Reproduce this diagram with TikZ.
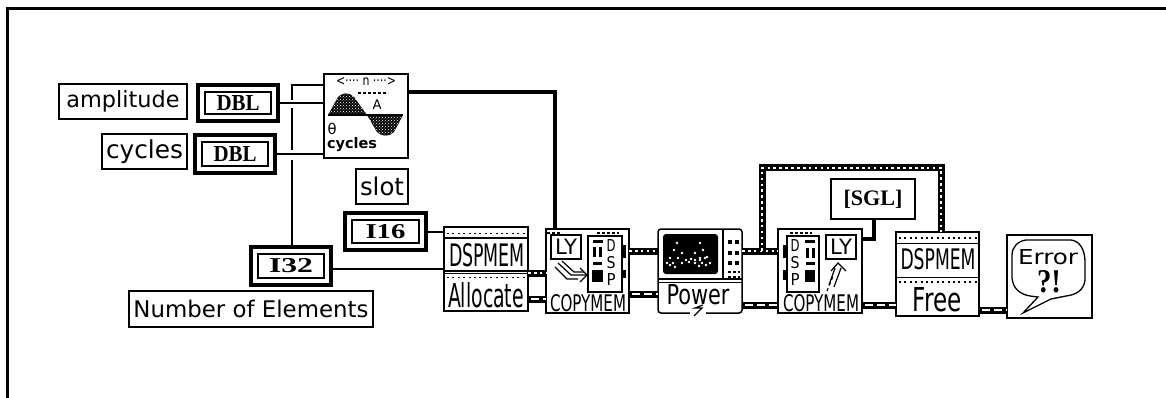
\documentclass[tikz,border=0pt]{standalone}
\usepackage{graphicx}
\usepackage{fontspec}
\setmainfont{DejaVu Sans}
\newfontfamily\serifbold{Liberation Serif}
\usetikzlibrary{patterns}
\newcommand{\fitw}[2]{\resizebox{#1pt}{!}{#2}}
\newcommand{\fitwh}[3]{\resizebox{#1pt}{#2pt}{#3}}
\newcommand{\bx}[7][]{\node[vibox,#1,minimum width={(#5-#3)*1pt},minimum height={(#6-#4)*1pt}] (#2) at ({(#3+#5)/2},{(#4+#6)/2}) {#7};}
\newcommand{\constbx}[6]{%
  \node[constouter,minimum width={(#4-#2-4)*1pt},minimum height={(#5-#3-4)*1pt}] (#1) at ({(#2+#4)/2},{(#3+#5)/2}) {};
  \node[constinner,minimum width={(#4-#2-18)*1pt},minimum height={(#5-#3-18)*1pt}] (#1i) at (#1.center) {#6};}
\tikzset{
  x=1pt,y=-1pt,
  vibox/.style={draw=black,fill=white,line width=1.5pt,inner sep=0pt,outer sep=0pt,rectangle},
  constouter/.style={draw=black,fill=white,line width=4.5pt,inner sep=0pt,outer sep=2.25pt,rectangle},
  constinner/.style={draw=black,fill=white,line width=1.5pt,inner sep=0pt,outer sep=0pt,rectangle,font=\serifbold\bfseries},
  txt/.style={inner sep=0pt,outer sep=0pt},
  thinw/.style={line width=1.5pt,black},
  thickw/.style={line width=4pt,black},
  dotw/.style={white,line width=2.6pt,dash pattern=on 2.6pt off 3.3pt,preaction={draw,black,solid,line width=7pt,line cap=butt}},
  brokenw/.style={white,line width=2.6pt,dash pattern=on 8pt off 4pt,dash phase=-3pt,preaction={draw,black,solid,line width=7pt}},
  thinl/.style={line width=1.2pt,black},
  stripe/.style={line width=1.5pt,black,dash pattern=on 2pt off 3.4pt},
  dotrow/.style={line width=2pt,black,dash pattern=on 2.5pt off 2.5pt},
  stipple/.style={pattern=crosshatch dots,pattern color=white},
}
\begin{document}
\begin{tikzpicture}
\useasboundingbox (0,0) rectangle (1166,398);
\fill[white] (0,0) rectangle (1166,398);
% frame
\draw[line width=3pt,black] (7.5,398) -- (7.5,8.5) -- (1166,8.5);

% front panel labels and constants
\bx[line width=2pt]{ampl}{59}{84}{187}{119}{\fitw{113}{amplitude}}
\bx{cyc}{102}{134}{187}{169}{\fitw{77}{cycles}}
\bx{slot}{356}{169}{408}{204}{\fitw{44}{slot}}
\bx{noe}{129}{291}{373}{327}{\fitw{235}{Number of Elements}}
\constbx{dbla}{196}{83}{280}{123}{\fitwh{43}{15}{DBL}}
\constbx{dblb}{193}{133}{277}{175}{\fitwh{43}{15}{DBL}}
\constbx{ixvi}{343}{211}{428}{252}{\fitwh{40}{14}{I16}}
\constbx{ixxxii}{249}{245}{333}{287}{\fitwh{44}{14}{I32}}

% sine VI
\bx{sine}{324}{74}{408}{158}{}
\node[txt] (sinen) at (366,82) {\fitwh{60}{8}{<···· n ····>}};
\fill[black] (328,115) -- (338,97) .. controls (343,92) and (349,92) .. (354,97) -- (367,115) -- cycle;
\fill[stipple] (328,115) -- (338,97) .. controls (343,92) and (349,92) .. (354,97) -- (367,115) -- cycle;
\fill[black] (367,115) -- (403,115) -- (394,132) .. controls (389,137) and (382,137) .. (377,132) -- cycle;
\fill[stipple] (367,115) -- (403,115) -- (394,132) .. controls (389,137) and (382,137) .. (377,132) -- cycle;
\draw[line width=1.5pt] (328,115) -- (403,115);
\draw[dotrow,line width=1.5pt] (358,93) -- (388,93);
\node[txt] (sinea) at (377,105) {\fitw{9}{A}};
\node[txt] (sinet) at (332,129) {\fitw{9}{θ}};
\node[txt] (sinec) at (352,145) {\fitw{50}{\bfseries cycles}};

% DSPMEM Allocate
\bx{alloc}{444}{227}{528}{311}{}
\coordinate (allocTL) at (444,238);
\coordinate (allocTR) at (528,238);
\draw[thinl] (allocTL) -- (allocTR);
\draw[stripe] (447,233.5) -- (526,233.5);
\draw[thinl] (444,271) -- (528,271);
\draw[thinl] (444,273.5) -- (528,273.5);
\draw[stripe] (447,277.5) -- (526,277.5);
\node[txt] (alloca) at (487,255) {\fitwh{76}{23}{DSPMEM}};
\node[txt] (allocb) at (486,295) {\fitwh{76}{25}{Allocate}};

% COPYMEM left
\bx{cpa}{546}{229}{629}{313}{}
\node[vibox,minimum width=30pt,minimum height=24pt] (cpaly) at (566,247) {\fitw{22}{LY}};
\bx[line width=1.3pt]{cpad}{588}{236}{622}{292}{}
\draw[dotrow] (547,232.5) -- (560,232.5);
\draw[dotrow] (597,232.5) -- (619,232.5);
\fill (593,240) rectangle (603,243);
\fill (593,247) rectangle (595.5,257);
\fill (599,247) rectangle (601.5,257);
\fill (593,262) rectangle (602,265);
\fill (592,270) rectangle (603,282);
\node[txt] (cpadd) at (611,245) {\fitwh{9}{12}{D}};
\node[txt] (cpads) at (611,263) {\fitwh{9}{12}{S}};
\node[txt] (cpadp) at (611,279) {\fitwh{9}{12}{P}};
\fill (622.5,245) rectangle (625.5,258);
\fill (622.5,270) rectangle (625.5,278);
\draw[thinl] (558,263) -- (571,275) -- (586,275);
\draw[thinl] (562,261) -- (574,272) -- (584,272);
\draw[thinl] (555,267) -- (567,279) -- (578,279);
\draw[thinl] (580,268) -- (587,275) -- (580,282);
\node[txt] (cpat) at (588,303) {\fitwh{76}{17}{COPYMEM}};

% Power
\node[vibox,rounded corners=3pt,minimum width=84pt,minimum height=84pt] (pow) at (700,271) {};
\fill[black,rounded corners=3pt] (663,234) rectangle (718,274);
\foreach \px/\py in {677/243,674/250,682/253,670/258,678/258,667/263,673/263,682/263,670/265,675/267,686/260,691/259,695/260,700/258,705/258,700/243,703/250,695/253,707/257,700/260,710/263,695/263,702/263,706/265,699/266,689/262}
  \fill[white] (\px,\py) circle (1.3);
\draw[thinl] (723,229) -- (723,278);
\draw[thinl] (658,279) -- (742,279);
\draw[thinl] (658,282.5) -- (742,282.5);
\foreach \py in {242,253,263} {\fill (728,\py-2) rectangle (732,\py+2); \fill (735,\py-2) rectangle (739,\py+2);}
\draw[dotrow,line width=1.3pt] (728,272) -- (740,272);
\draw[dotrow,line width=1.3pt] (728,277) -- (740,277);
\node[txt] (powt) at (698,295) {\fitwh{63}{20}{Power}};
\coordinate (boltA) at (703,305);
\coordinate (boltB) at (695,308);
\coordinate (boltC) at (702,308);
\coordinate (boltD) at (694,316);
\draw[white,line width=3pt] (690,313) -- (706,313);
\draw[thinl] (boltA) -- (boltB) -- (boltC) -- (boltD);

% COPYMEM right
\bx{cpb}{778}{229}{862}{313}{}
\node[vibox,minimum width=30pt,minimum height=24pt] (cpbly) at (841,247) {\fitw{22}{LY}};
\bx[line width=1.3pt]{cpbd}{787}{236}{819}{292}{}
\draw[dotrow] (790,232.5) -- (812,232.5);
\fill (805,240) rectangle (815,243);
\fill (806,248) rectangle (808.5,258);
\fill (812,248) rectangle (814.5,258);
\fill (806,262) rectangle (815,265);
\fill (805,270) rectangle (815,282);
\node[txt] (cpbdd) at (795,245) {\fitwh{9}{12}{D}};
\node[txt] (cpbds) at (795,263) {\fitwh{9}{12}{S}};
\node[txt] (cpbdp) at (795,279) {\fitwh{9}{12}{P}};
\fill (783,245) rectangle (786,258);
\fill (783,270) rectangle (786,280);
\draw[thinl] (829,285) -- (835,268);
\draw[thinl] (834,287) -- (841,268);
\draw[thinl,dashed] (827,291) -- (833,276);
\draw[thinl] (831,271) -- (838,263) -- (846,271);
\node[txt] (cpbt) at (821,303) {\fitwh{76}{17}{COPYMEM}};

% SGL
\bx[line width=2pt]{sgl}{831}{179}{915}{219}{\fitw{59}{\serifbold\bfseries [SGL]}}

% DSPMEM Free
\bx{free}{896}{232}{979}{316}{}
\draw[thinl] (896,243.5) -- (979,243.5);
\draw[stripe] (899,238) -- (977,238);
\draw[thinl] (896,277.5) -- (979,277.5);
\draw[stripe] (899,282) -- (977,282);
\node[txt] (freea) at (938,259) {\fitwh{75}{21}{DSPMEM}};
\node[txt] (freeb) at (937,300) {\fitwh{49}{24}{Free}};

% Error
\bx{err}{1007}{235}{1092}{318}{}
\draw[line width=1.3pt,black] (1026,240) -- (1071,240) .. controls (1080,241) and (1085,250) .. (1085,262)
  -- (1085,280) .. controls (1084,290) and (1076,295) .. (1066,296) -- (1051,299) -- (1023,313) -- (1038,297)
  -- (1030,296) .. controls (1019,294) and (1013,288) .. (1012,278) -- (1012,255) .. controls (1012,247) and (1018,241) .. (1026,240) -- cycle;
\node[txt] (errt) at (1048,257) {\fitwh{60}{15}{Error}};
\node[txt] (errq) at (1049,282) {\fitwh{24}{22}{\serifbold\bfseries ?!}};

% ports
\coordinate (tapTop) at (292,85);
\coordinate (gapAu) at (292,100);
\coordinate (gapAd) at (292,108);
\coordinate (gapBu) at (292,150);
\coordinate (gapBd) at (292,160);
\coordinate (sineOut) at (408,92);
\coordinate (cpaTop) at (555,229);
\coordinate (i16in) at (444,232);
\coordinate (i32in) at (444,269);
\coordinate (cpaDotIn) at (546,273);
\coordinate (cpaErrIn) at (546,299);
\coordinate (cpaDotOut) at (629,251);
\coordinate (cpaErrOut) at (629,294);
\coordinate (powErrOut) at (742,305);
\coordinate (powDotOut) at (742,251);
\coordinate (cpbDotIn) at (778,251);
\coordinate (cpbErrIn) at (778,305);
\coordinate (cpbErrOut) at (862,305);
\coordinate (cpbSglIn) at (862,239);
\coordinate (branch) at (762,251);
\coordinate (branchTop) at (762,168);
\coordinate (freeTop) at (941,232);
\coordinate (freeErrIn) at (896,305);
\coordinate (freeErrOut) at (979,310);
\coordinate (sglOut) at (874,219);

% wires
\draw[thinw] (dbla.east) -- (dbla.east -| sine.west);
\draw[thinw] (dblb.east) -- (dblb.east -| sine.west);
\draw[thinw] (sine.west |- tapTop) -- (tapTop) -- (gapAu);
\draw[thinw] (gapAd) -- (gapBu);
\draw[thinw] (gapBd) -- (gapBd |- ixxxii.north);
\draw[thinw] (ixxxii.east |- i32in) -- (i32in);
\draw[thinw] (ixvi.east |- i16in) -- (i16in);
\draw[thickw] (sineOut) -| (cpaTop);
\draw[dotw] (cpaDotIn -| alloc.east) -- (cpaDotIn);
\draw[brokenw] (cpaErrIn -| alloc.east) -- (cpaErrIn);
\draw[dotw] (cpaDotOut) -- (cpaDotOut -| pow.west);
\draw[brokenw] (cpaErrOut) -- (cpaErrOut -| pow.west);
\draw[dotw] (powDotOut) -- (cpbDotIn);
\draw[dotw] (branch) -- (branchTop) -| (freeTop);
\draw[brokenw] (powErrOut) -- (cpbErrIn);
\draw[brokenw] (cpbErrOut) -- (freeErrIn);
\draw[brokenw] (freeErrOut) -- (freeErrOut -| err.west);
\draw[thickw,line width=3.5pt] (sglOut) |- (cpbSglIn);
\end{tikzpicture}
\end{document}
